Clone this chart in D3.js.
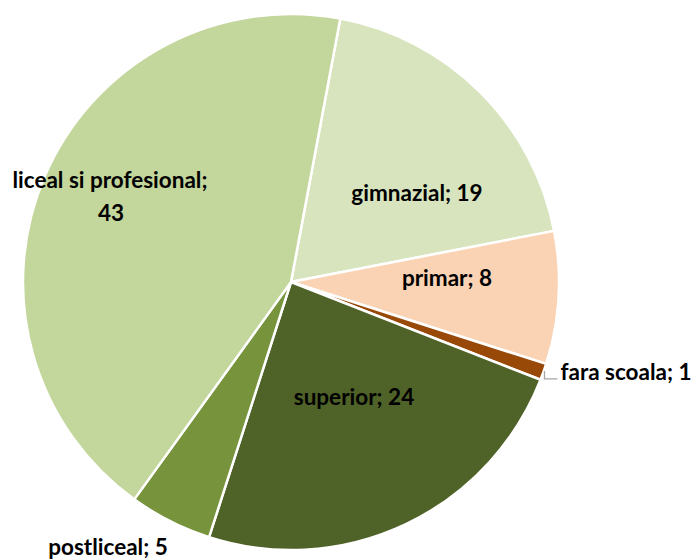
<!DOCTYPE html>
<html><head><meta charset="utf-8">
<script src="https://cdn.jsdelivr.net/npm/d3@7"></script>
<style>body{margin:0;background:#fff}svg{display:block}</style>
</head><body>
<svg id="c" width="695" height="560"></svg>
<script>
const categories = ["gimnazial", "primar", "fara scoala", "superior", "postliceal", "liceal si profesional"];
const values = [19, 8, 1, 24, 5, 43];
const colors = ["#D7E4BD", "#FAD3B4", "#984807", "#4F6228", "#77933C", "#C3D69B"];

const svg = d3.select("#c");
const cx = 291, cy = 282, R = 268;
const startDeg = 10.6;
const pie = d3.pie().sort(null).value(d => d.v)
  .startAngle(startDeg * Math.PI / 180).endAngle(startDeg * Math.PI / 180 + 2 * Math.PI);
const data = categories.map((c, i) => ({c, v: values[i], col: colors[i]}));
const arcs = pie(data);
const arc = d3.arc().innerRadius(0).outerRadius(R);
const g = svg.append("g").attr("transform", `translate(${cx},${cy})`);
g.selectAll("path").data(arcs).join("path")
  .attr("d", arc).attr("fill", d => d.data.col)
  .attr("stroke", "#fff").attr("stroke-width", 2.5).attr("stroke-linejoin", "round");

const font = "Lato, 'Open Sans', sans-serif";
// label anchor offsets (relative to pie centre), text baseline
const labelPos = {
  "gimnazial": [[126, -81]],
  "primar": [[156, 4]],
  "superior": [[63, 123]],
  "postliceal": [[-183, 273]],
  "liceal si profesional": [[-181, -94], [-180, -61]]
};
const labels = svg.append("g").attr("font-family", font).attr("font-weight", "bold")
  .attr("font-size", 22.5).attr("fill", "#000");
arcs.forEach(a => {
  const name = a.data.c;
  if (name === "liceal si profesional") {
    const p = labelPos[name];
    labels.append("text").attr("x", cx + p[0][0]).attr("y", cy + p[0][1]).attr("text-anchor", "middle")
      .text(name + ";");
    labels.append("text").attr("x", cx + p[1][0]).attr("y", cy + p[1][1]).attr("text-anchor", "middle")
      .text(a.data.v);
  } else if (name === "fara scoala") {
    const mid = (a.startAngle + a.endAngle) / 2;
    const ex = cx + Math.sin(mid) * R, ey = cy - Math.cos(mid) * R;
    svg.append("path").attr("d", `M${ex + 1},${ey - 1}L${ex + 1},${ey + 7}L${ex + 14},${ey + 7}`)
      .attr("fill", "none").attr("stroke", "#A6A6A6").attr("stroke-width", 1.3);
    labels.append("text").attr("x", ex + 17).attr("y", ey + 8).attr("text-anchor", "start")
      .text(name + "; " + a.data.v);
  } else {
    const p = labelPos[name][0];
    labels.append("text").attr("x", cx + p[0]).attr("y", cy + p[1]).attr("text-anchor", "middle")
      .text(name + "; " + a.data.v);
  }
});
</script>
</body></html>
